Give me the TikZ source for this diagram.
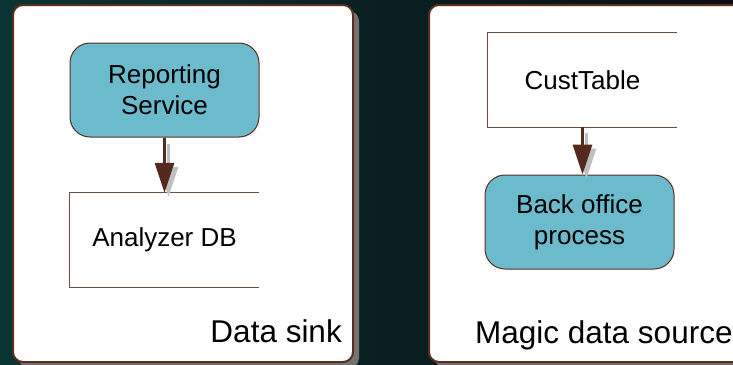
\documentclass[tikz,border=0pt]{standalone}
\usepackage{fontspec}
\setmainfont{Liberation Sans}
\usetikzlibrary{arrows.meta}
\definecolor{bgteal}{RGB}{10,52,51}
\definecolor{bgmid}{RGB}{10,22,26}
\definecolor{bgdark}{RGB}{9,14,18}
\definecolor{rim}{RGB}{92,46,32}
\definecolor{procfill}{RGB}{108,187,204}
\definecolor{flow}{RGB}{85,42,30}
\definecolor{tabline}{RGB}{110,78,68}
\tikzset{
  panel/.style={draw=rim, line width=2pt, fill=white, rounded corners=10pt},
  panelshadow/.style={fill=black!55, rounded corners=10pt},
  process/.style={draw=rim, line width=1pt, fill=procfill, rounded corners=20pt,
    minimum width=189pt, minimum height=94pt, align=center, inner sep=0pt,
    font=\fontsize{26}{31}\selectfont},
  datatable/.style={minimum width=189pt, minimum height=94pt, inner sep=0pt,
    font=\fontsize{26}{31}\selectfont},
  tableedge/.style={draw=tabline, line width=1pt},
  flowarrow/.style={draw=flow, line width=3pt, -{Triangle[width=19pt,length=30pt]}},
  flowshadow/.style={draw=black!25, line width=3pt, -{Triangle[width=19pt,length=30pt]}},
  caption/.style={font=\fontsize{31.5}{38}\selectfont, inner sep=0pt}
}
\begin{document}
\begin{tikzpicture}[x=1pt,y=-1pt]
  \def\w{733};
  \def\h{364};
  \useasboundingbox (0,0) rectangle (\w,\h);
  \clip (0,0) rectangle (\w,\h);
  \shade[left color=bgteal, middle color=bgmid, right color=bgdark] (0,0) rectangle (\w,\h);
  % panels
  \fill[panelshadow] (19,11) rectangle (359,368);
  \draw[panel] (13,5) rectangle (353,362);
  \fill[panelshadow] (435,11) rectangle (760,368);
  \draw[panel] (429,5) rectangle (755,362);
  % data sink
  \node[process] (rep) at (164.5,90) {Reporting\\Service};
  \node[datatable] (adb) at (164.5,240) {Analyzer DB};
  \draw[tableedge] (adb.north east)--(adb.north west)--(adb.south west)--(adb.south east);
  \draw[flowshadow] ([shift={(4,6)}]rep.south)--([shift={(4,4)}]adb.north);
  \draw[flowarrow] (rep.south)--(adb.north);
  \node[caption, anchor=base east] (sink) at (342,342) {Data sink};
  % magic data source
  \node[datatable] (cust) at (582.5,80) {CustTable};
  \draw[tableedge] (cust.north east)--(cust.north west)--(cust.south west)--(cust.south east);
  \node[process] (back) at (579.5,222) {Back office\\process};
  \draw[flowshadow] ([shift={(4,6)}]cust.south)--([shift={(4,4)}]cust.south |- back.north);
  \draw[flowarrow] (cust.south)--(cust.south |- back.north);
  \node[caption, anchor=base west] (source) at (475,343) {Magic data source};
\end{tikzpicture}
\end{document}
